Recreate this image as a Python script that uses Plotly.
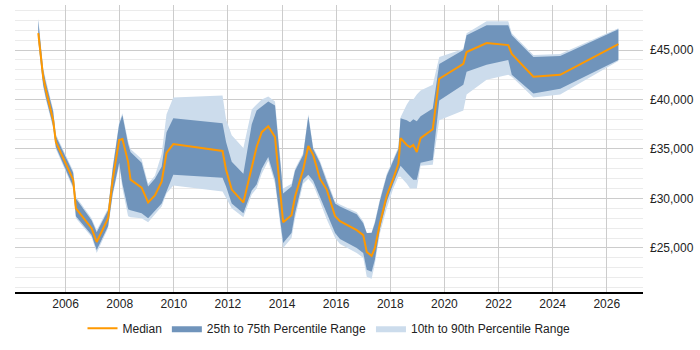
import plotly.graph_objects as go

years = [2004.99, 2005.17, 2005.27, 2005.54, 2005.64, 2006.28, 2006.38, 2006.96, 2007.15, 2007.57,
         2007.74, 2007.98, 2008.10, 2008.31, 2008.40, 2008.81, 2009.05, 2009.30, 2009.55, 2009.73,
         2009.98, 2011.80, 2011.93, 2012.14, 2012.57, 2012.88, 2013.06, 2013.25, 2013.49, 2013.74,
         2014.04, 2014.35, 2014.48, 2014.78, 2014.97, 2015.15, 2015.40, 2015.65, 2015.96, 2016.14,
         2016.76, 2017.00, 2017.13, 2017.31, 2017.43, 2017.62, 2017.87, 2018.11, 2018.30, 2018.38,
         2018.61, 2018.73, 2018.85, 2018.98, 2019.12, 2019.57, 2019.81, 2020.70, 2020.82, 2021.56,
         2022.36, 2022.49, 2023.29, 2024.28, 2026.43]

median = [46700, 42300, 40960, 37900, 35700, 31900, 29000, 27000, 25600, 28000,
          31900, 35900, 36000, 33700, 31900, 31100, 29600, 30300, 31700, 34600,
          35500, 34800, 32900, 30900, 29600, 33200, 35200, 36700, 37300, 36200,
          27600, 28300, 30200, 32900, 35300, 34400, 32000, 30900, 28200, 27700,
          26800, 26300, 24600, 24200, 25000, 27500, 30300, 32000, 33500, 36100,
          35400, 35200, 35400, 34700, 36100, 37000, 42100, 43600, 44800, 45700,
          45500, 44600, 42300, 42500, 45600]

p75 = [48000, 43000, 41700, 38800, 36300, 32600, 30000, 27800, 26600, 28800,
       33000, 37500, 38400, 35500, 34700, 33600, 31200, 32000, 33200, 36700,
       38100, 37600, 35700, 33700, 32500, 37500, 38900, 39300, 39800, 39400,
       30500, 31200, 32800, 34400, 38300, 35000, 33600, 31700, 29500, 29200,
       28400, 27500, 26500, 26500, 27500, 29800, 32300, 33800, 35000, 38100,
       37900, 37700, 38000, 37800, 38300, 39100, 43600, 45000, 46500, 47500,
       47500, 46500, 44300, 44400, 47100]

p25 = [46000, 41500, 40200, 37300, 35200, 31200, 28200, 26300, 24800, 27200,
       30500, 33600, 31500, 28900, 28800, 28500, 28000, 28800, 29500, 30700,
       32400, 32100, 31200, 29500, 28500, 30800, 31400, 33000, 34200, 31900,
       25500, 26500, 28500, 31900, 32400, 31800, 30200, 28600, 26500, 25900,
       25000, 24500, 22800, 22600, 23800, 27000, 29700, 31500, 32700, 33300,
       32600, 32300, 31900, 31900, 33600, 33900, 39900, 41500, 42800, 43500,
       44000, 42500, 40600, 41100, 44000]

p90 = [48200, 43200, 42000, 39000, 36500, 32800, 30200, 28000, 26800, 29000,
       33200, 37700, 38600, 35800, 35000, 34000, 31500, 32300, 34500, 38500,
       40200, 40400, 38000, 36400, 35100, 39000, 39500, 40000, 40300, 39800,
       31000, 31500, 33000, 34600, 38500, 35200, 33800, 31900, 29700, 29400,
       28600, 27700, 26500, 26600, 27700, 30000, 32500, 34000, 35200, 38200,
       39500, 40000, 40000, 40500, 40900, 41500, 44300, 45100, 46700, 47900,
       47900, 46700, 44500, 44600, 47200]

p10 = [45800, 41300, 40000, 37100, 35000, 31000, 28000, 26100, 24500, 27000,
       30300, 33300, 31000, 28200, 28100, 28000, 27600, 28400, 29200, 30500,
       31300, 30700, 30000, 29000, 28100, 30400, 31000, 32500, 33800, 31500,
       25000, 26000, 28000, 31500, 32000, 31400, 29700, 27900, 26000, 25400,
       24500, 24000, 22100, 21900, 23400, 26500, 29000, 31000, 32200, 32200,
       31500, 31000, 31000, 31000, 33300, 33400, 37900, 38900, 40500, 42000,
       42500, 42300, 40200, 40500, 43900]

DARK = "#7094bb"
LIGHT = "#ccdcec"
ORANGE = "#ff9900"

fig = go.Figure()
fig.add_trace(go.Scatter(x=years, y=p10, mode="lines", line=dict(width=0, color=LIGHT),
                         showlegend=False, hoverinfo="skip"))
fig.add_trace(go.Scatter(x=years, y=p90, mode="lines", line=dict(width=0, color=LIGHT),
                         fill="tonexty", fillcolor=LIGHT, name="10th to 90th Percentile Range",
                         legendrank=3))
fig.add_trace(go.Scatter(x=years, y=p25, mode="lines", line=dict(width=0, color=DARK),
                         showlegend=False, hoverinfo="skip"))
fig.add_trace(go.Scatter(x=years, y=p75, mode="lines", line=dict(width=0, color=DARK),
                         fill="tonexty", fillcolor=DARK, name="25th to 75th Percentile Range",
                         legendrank=2))
fig.add_trace(go.Scatter(x=years, y=median, mode="lines", line=dict(width=2, color=ORANGE),
                         name="Median", legendrank=1))

fig.update_layout(
    width=700, height=350,
    margin=dict(l=15, r=57, t=5, b=58),
    paper_bgcolor="white", plot_bgcolor="white",
    font=dict(family="Liberation Sans, Arial, sans-serif", size=12, color="#222"),
    showlegend=True,
    legend=dict(orientation="h", x=0.5, xanchor="center", y=-0.126, yanchor="middle",
                font=dict(size=12, color="#222"), traceorder="normal", itemwidth=30),
    xaxis=dict(range=[2004.13, 2027.34], tick0=2006, dtick=2, showgrid=True,
               gridcolor="#cccccc", gridwidth=1, showline=True, linecolor="#000", linewidth=1.5,
               ticks="", zeroline=False, tickfont=dict(size=12, color="#222")),
    yaxis=dict(range=[20550, 49550], side="right", tick0=0, dtick=5000, tickprefix="£",
               tickformat=",d", showgrid=True, gridcolor="#cccccc", gridwidth=1,
               zeroline=False, showline=False, ticks="", ticklabelstandoff=6,
               minor=dict(dtick=1000, showgrid=True, gridcolor="#ebebeb", gridwidth=1),
               tickfont=dict(size=12, color="#222")),
)

fig.write_html("out.html")
